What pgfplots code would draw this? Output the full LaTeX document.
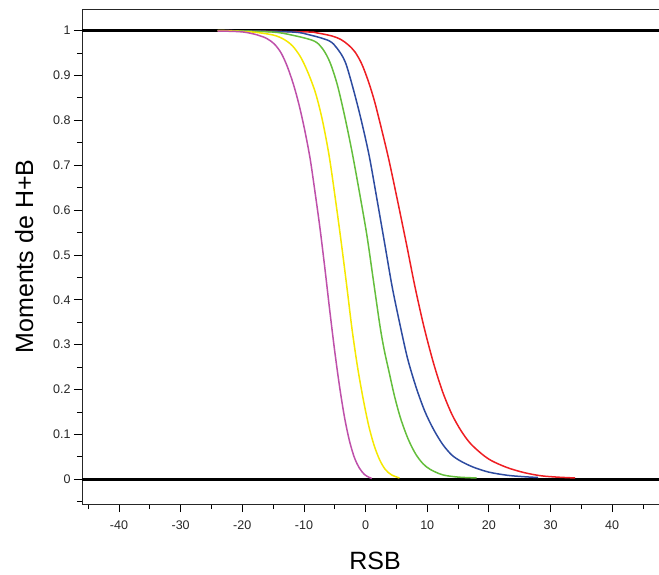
\documentclass[border=0pt]{standalone}
\usepackage{fontspec}
\setmainfont{Liberation Sans}
\usepackage{pgfplots}
\pgfplotsset{compat=1.18}
\definecolor{cmag}{RGB}{190,80,170}
\definecolor{cyel}{RGB}{245,232,0}
\definecolor{cgrn}{RGB}{100,190,60}
\definecolor{cblu}{RGB}{45,75,160}
\definecolor{cred}{RGB}{238,30,35}
\begin{document}
\begin{tikzpicture}
\begin{axis}[
  scale only axis, width=577pt, height=495pt,
  xmin=-46, xmax=47.6, ymin=-0.055, ymax=1.048,
  axis x line=box, axis y line*=left,
  xtick pos=bottom,
  axis line style={line width=0.8pt, black!85},
  xtick={-40,-30,-20,-10,0,10,20,30,40},
  minor xtick={-45,-35,-25,-15,-5,5,15,25,35,45},
  ytick={0,0.1,0.2,0.3,0.4,0.5,0.6,0.7,0.8,0.9,1},
  yticklabels={0,0.1,0.2,0.3,0.4,0.5,0.6,0.7,0.8,0.9,1},
  minor ytick={-0.05,0.05,0.15,0.25,0.35,0.45,0.55,0.65,0.75,0.85,0.95},
  tick align=outside,
  major tick length=8pt, minor tick length=5pt,
  every tick/.style={black, line width=0.8pt},
  tick label style={font=\fontsize{12.5}{14}\selectfont, black!85},
  xticklabel style={yshift=-5pt},
  /pgf/number format/assume math mode=true,
  xlabel={RSB}, ylabel={Moments de H+B},
  label style={font=\fontsize{25}{30}\selectfont},
  xlabel style={at={(axis description cs:0.508,-0.115)}, anchor=center},
  ylabel style={at={(axis description cs:-0.100,0.5)}, anchor=center},
  clip=false,
]
\addplot[black, line width=2.5pt, forget plot] coordinates {(-46,0) (47.6,0)};
\addplot[black, line width=2.5pt, forget plot] coordinates {(-46,1) (47.6,1)};
% red
\addplot[cred, line width=1.5pt, smooth, tension=0.5] coordinates {
(-24,1.0) (-10,0.997) (-8,0.995) (-5.5,0.988) (-4,0.98) (-2.8,0.968) (-1.7,0.952) (-0.6,0.925) (0.5,0.885) (1.5,0.84) (2.6,0.78) (3.78,0.712) (5.2,0.62) (6.65,0.523) (8,0.43) (9.45,0.341) (11,0.26) (12.5,0.195) (14,0.145) (15.5,0.108) (17,0.08) (18.9,0.056) (20.5,0.041) (23,0.026) (25.7,0.015) (28.4,0.008) (31,0.005) (34,0.003)};
% blue
\addplot[cblu, line width=1.5pt, smooth, tension=0.5] coordinates {
(-24,1.0) (-12.2,0.997) (-9,0.99) (-5.9,0.977) (-4.6,0.96) (-3.3,0.93) (-2.0,0.87) (-0.7,0.80) (0.6,0.72) (1.9,0.62) (3.13,0.523) (4.3,0.43) (5.5,0.35) (6.8,0.27) (8.2,0.205) (9.6,0.152) (11.0,0.112) (12.5,0.078) (14,0.054) (15.5,0.040) (17.5,0.027) (20,0.016) (23,0.009) (25.5,0.006) (28,0.004)};
% green
\addplot[cgrn, line width=1.5pt, smooth, tension=0.5] coordinates {
(-24,1.0) (-15.4,0.997) (-12,0.99) (-8.4,0.977) (-7,0.96) (-5.8,0.93) (-4.6,0.88) (-3.4,0.81) (-2.2,0.73) (-1.0,0.64) (0.2,0.545) (1.2,0.45) (2.3,0.345) (3.0,0.29) (3.8,0.24) (4.7,0.185) (5.7,0.135) (6.9,0.09) (8.1,0.057) (9.3,0.035) (10.5,0.022) (12.5,0.01) (15,0.005) (18,0.003)};
% yellow
\addplot[cyel, line width=1.5pt, smooth, tension=0.5] coordinates {
(-24,1.0) (-18.6,0.997) (-15,0.99) (-13.2,0.98) (-11.8,0.965) (-10.5,0.94) (-9.3,0.905) (-8.1,0.86) (-7.0,0.8) (-5.9,0.72) (-4.9,0.625) (-3.9,0.523) (-3.0,0.425) (-2.2,0.335) (-1.3,0.25) (-0.4,0.18) (0.5,0.12) (1.4,0.075) (2.3,0.043) (3.2,0.022) (4.2,0.01) (5.5,0.003)};
% magenta
\addplot[cmag, line width=1.5pt, smooth, tension=0.5] coordinates {
(-24,0.999) (-20,0.997) (-17.5,0.99) (-16,0.982) (-14.8,0.97) (-13.7,0.95) (-12.7,0.92) (-11.7,0.88) (-10.8,0.835) (-9.9,0.78) (-9.0,0.715) (-8.2,0.64) (-7.4,0.56) (-6.6,0.47) (-5.8,0.375) (-5.0,0.285) (-4.2,0.205) (-3.4,0.137) (-2.6,0.085) (-1.8,0.048) (-1.0,0.025) (-0.2,0.011) (0.5,0.005) (1.0,0.002)};
\end{axis}
\pgfresetboundingbox
\path ([xshift=-82pt,yshift=-70pt]current axis.south west) rectangle ([yshift=9pt]current axis.north east);
\end{tikzpicture}
\end{document}
